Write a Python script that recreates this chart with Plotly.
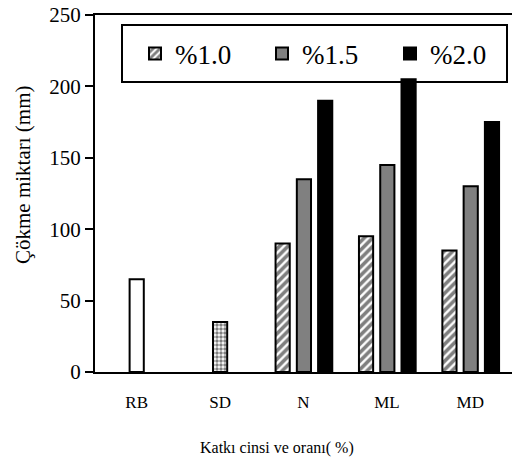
import plotly.graph_objects as go

categories = ["RB", "SD", "N", "ML", "MD"]
rb_value = [65]
sd_value = [35]
group_categories = ["N", "ML", "MD"]
pct_1_0 = [90, 95, 85]
pct_1_5 = [135, 145, 130]
pct_2_0 = [190, 205, 175]
y_ticks = [0, 50, 100, 150, 200, 250]

FONT = "Liberation Serif"
W = 0.17

fig = go.Figure()
fig.add_trace(go.Bar(
    x=["RB"], y=rb_value, width=W, offset=-W / 2,
    marker=dict(color="white", line=dict(color="black", width=2)),
    showlegend=False))
fig.add_trace(go.Bar(
    x=["SD"], y=sd_value, width=W, offset=-W / 2,
    marker=dict(color="white", line=dict(color="black", width=2),
                pattern=dict(shape=".", size=4, solidity=0.6,
                             fgcolor="black", bgcolor="white")),
    showlegend=False))
fig.add_trace(go.Bar(
    x=group_categories, y=pct_1_0, width=W, offset=-0.25 - W / 2,
    name="%1.0", legend="legend",
    marker=dict(color="white", line=dict(color="black", width=2),
                pattern=dict(shape="/", size=6, solidity=0.6,
                             fgcolor="black", bgcolor="white"))))
fig.add_trace(go.Bar(
    x=group_categories, y=pct_1_5, width=W, offset=0.005 - W / 2,
    name="%1.5", legend="legend2",
    marker=dict(color="#808080", line=dict(color="black", width=2))))
fig.add_trace(go.Bar(
    x=group_categories, y=pct_2_0, width=W, offset=0.26 - W / 2,
    name="%2.0", legend="legend3",
    marker=dict(color="black", line=dict(color="black", width=2))))


def legend_at(left_px):
    return dict(
        orientation="h", x=(left_px - 95) / 417, y=(372 - 54) / 357,
        xanchor="left", yanchor="middle",
        bgcolor="rgba(0,0,0,0)", borderwidth=0,
        font=dict(family=FONT, size=27, color="black"),
    )


fig.update_layout(
    width=512, height=469,
    margin=dict(l=95, r=0, t=15, b=97, autoexpand=False),
    barmode="overlay",
    plot_bgcolor="white", paper_bgcolor="white",
    font=dict(family=FONT, color="black", size=19),
    showlegend=True,
    legend=legend_at(135),
    legend2=legend_at(262),
    legend3=legend_at(390),
    shapes=[
        dict(type="rect", xref="paper", yref="paper", layer="below",
             x0=(122 - 95) / 417, x1=(507 - 95) / 417,
             y0=(372 - 82) / 357, y1=(372 - 25) / 357,
             line=dict(color="black", width=2), fillcolor="white"),
    ],
    xaxis=dict(
        type="category", categoryorder="array", categoryarray=categories,
        range=[-0.5, 4.5],
        showline=True, linecolor="black", linewidth=2, mirror=True,
        ticks="", showgrid=False, zeroline=False,
        tickfont=dict(family=FONT, size=17, color="black"),
        ticklabelstandoff=14,
    ),
    yaxis=dict(
        range=[0, 250], tickvals=y_ticks,
        showline=True, linecolor="black", linewidth=2, mirror=False,
        ticks="outside", ticklen=8, tickwidth=2, tickcolor="black",
        showgrid=False, zeroline=False,
        tickfont=dict(family=FONT, size=21, color="black"),
    ),
    annotations=[
        dict(text="Katkı cinsi ve oranı( %)", xref="paper", yref="paper",
             x=(277 - 95) / 417, y=-(448 - 372) / 357,
             xanchor="center", yanchor="middle", showarrow=False,
             font=dict(family=FONT, size=16, color="black")),
        dict(text="Çökme miktarı (mm)", xref="paper", yref="paper",
             x=-(95 - 23) / 417, y=(372 - 175) / 357, textangle=-90,
             xanchor="center", yanchor="middle", showarrow=False,
             font=dict(family=FONT, size=21, color="black")),
    ],
)

fig.write_html("out.html")
